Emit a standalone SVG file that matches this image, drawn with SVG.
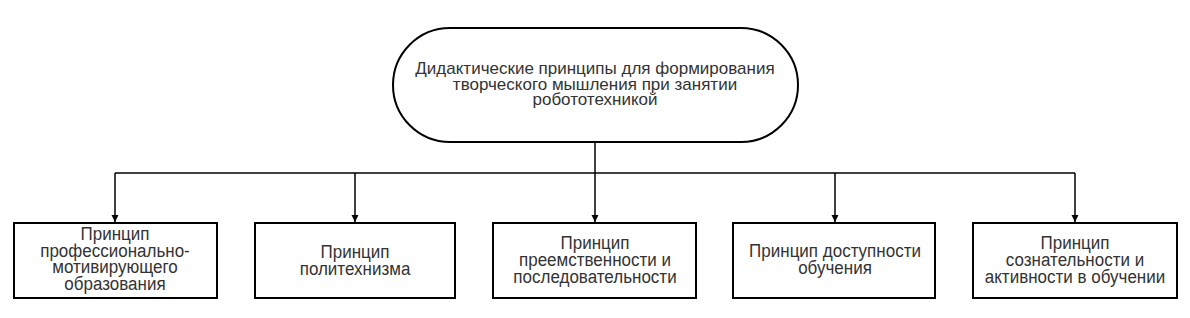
<svg xmlns="http://www.w3.org/2000/svg" width="1190" height="318" viewBox="0 0 1190 318">
<style>
.box{fill:#fff;stroke:#000;stroke-width:2}
.t{font-family:"Liberation Sans",Arial,sans-serif;font-size:17px;fill:#333;text-anchor:middle}
.c{fill:none;stroke:#000;stroke-width:1.5}
</style>
<defs>
<marker id="ah" viewBox="0 0 10 10" refX="10" refY="5" markerWidth="5" markerHeight="5" orient="auto" markerUnits="strokeWidth">
<path d="M0,0 L10,5 L0,10 z" fill="#000"/>
</marker>
</defs>
<rect width="1190" height="318" fill="#fff"/>
<g id="connectors">
<path class="c" d="M595,142 V173"/>
<path class="c" d="M115,173 H1075"/>
<path class="c" d="M115,173 V222" marker-end="url(#ah)"/>
<path class="c" d="M355,173 V222" marker-end="url(#ah)"/>
<path class="c" d="M595,173 V222" marker-end="url(#ah)"/>
<path class="c" d="M835,173 V222" marker-end="url(#ah)"/>
<path class="c" d="M1075,173 V222" marker-end="url(#ah)"/>
</g>
<g id="root">
<rect class="box" x="393" y="28" width="405" height="114" rx="57" ry="57"/>
<text class="t" x="595" y="74">Дидактические принципы для формирования</text>
<text class="t" x="595" y="89.5">творческого мышления при занятии</text>
<text class="t" x="595" y="105">робототехникой</text>
</g>
<g id="n1">
<rect class="box" x="14" y="223" width="203" height="75"/>
<text class="t" transform="translate(115,240) scale(1,1.05)">Принцип</text>
<text class="t" transform="translate(115,256.5) scale(1,1.05)">профессионально-</text>
<text class="t" transform="translate(115,273) scale(1,1.05)">мотивирующего</text>
<text class="t" transform="translate(115,289.5) scale(1,1.05)">образования</text>
</g>
<g id="n2">
<rect class="box" x="255" y="223" width="200" height="75"/>
<text class="t" transform="translate(355,258) scale(1,1.05)">Принцип</text>
<text class="t" transform="translate(355,275) scale(1,1.05)">политехнизма</text>
</g>
<g id="n3">
<rect class="box" x="493" y="223" width="203" height="75"/>
<text class="t" transform="translate(595,249) scale(1,1.05)">Принцип</text>
<text class="t" transform="translate(595,266) scale(1,1.05)">преемственности и</text>
<text class="t" transform="translate(595,282.5) scale(1,1.05)">последовательности</text>
</g>
<g id="n4">
<rect class="box" x="733" y="223" width="202" height="75"/>
<text class="t" transform="translate(835,257) scale(1,1.05)">Принцип доступности</text>
<text class="t" transform="translate(835,274) scale(1,1.05)">обучения</text>
</g>
<g id="n5">
<rect class="box" x="973" y="223" width="204" height="75"/>
<text class="t" transform="translate(1075,249) scale(1,1.05)">Принцип</text>
<text class="t" transform="translate(1075,266) scale(1,1.05)">сознательности и</text>
<text class="t" transform="translate(1075,282.5) scale(1,1.05)">активности в обучении</text>
</g>
</svg>
